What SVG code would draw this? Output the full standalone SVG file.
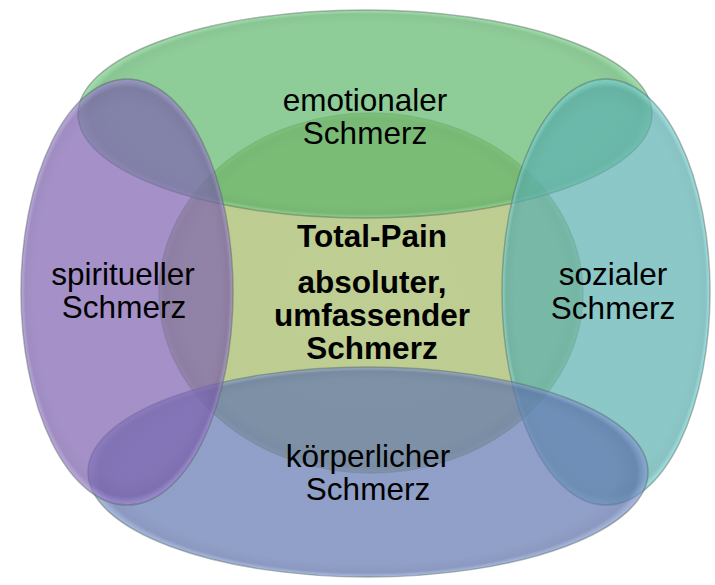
<svg xmlns="http://www.w3.org/2000/svg" width="715" height="585" viewBox="0 0 715 585">
<defs>
<radialGradient id="gCenter" cx="0.5" cy="0.5" r="0.5">
<stop offset="0" stop-color="#bfce92"/>
<stop offset="0.9" stop-color="#bdcc90"/>
<stop offset="0.97" stop-color="#b2c088"/>
<stop offset="1" stop-color="#c8d6a0"/>
</radialGradient>
<radialGradient id="gGreen" cx="0.5" cy="0.5" r="0.5">
<stop offset="0" stop-color="#5eb66c"/>
<stop offset="0.88" stop-color="#5eb66c"/>
<stop offset="0.96" stop-color="#58ad66"/>
<stop offset="1" stop-color="#7fd48c"/>
</radialGradient>
<radialGradient id="gCyan" cx="0.5" cy="0.5" r="0.5">
<stop offset="0" stop-color="#5bb0b0"/>
<stop offset="0.88" stop-color="#5bb0b0"/>
<stop offset="0.96" stop-color="#56a8a8"/>
<stop offset="1" stop-color="#7ed8d8"/>
</radialGradient>
<radialGradient id="gBlue" cx="0.5" cy="0.5" r="0.5">
<stop offset="0" stop-color="#6277b0"/>
<stop offset="0.88" stop-color="#6277b0"/>
<stop offset="0.96" stop-color="#5a6ea5"/>
<stop offset="1" stop-color="#8aa0d8"/>
</radialGradient>
<radialGradient id="gPurple" cx="0.5" cy="0.5" r="0.5">
<stop offset="0" stop-color="#7e62b0"/>
<stop offset="0.88" stop-color="#7e62b0"/>
<stop offset="0.96" stop-color="#765ba6"/>
<stop offset="1" stop-color="#a288d4"/>
</radialGradient>
</defs>
<style>
.shape { fill-opacity: 0.7; stroke: #4e6258; stroke-opacity: 0.45; stroke-width: 1.5; }
.center { stroke: #8a9a70; stroke-opacity: 0.5; stroke-width: 1.5; }
.lbl { font-family: "Liberation Sans", Arial, sans-serif; font-size: 31.5px; fill: #000; text-anchor: middle; }
.bold { font-weight: bold; }
</style>
<g id="total-pain">
<ellipse class="center" cx="371" cy="293" rx="212" ry="180" fill="url(#gCenter)"/>
<text class="lbl bold" x="372" y="247">Total-Pain</text>
<text class="lbl bold" x="372" y="293">absoluter,</text>
<text class="lbl bold" x="372" y="326">umfassender</text>
<text class="lbl bold" x="372" y="359">Schmerz</text>
</g>
<g id="emotionaler-schmerz">
<ellipse class="shape" cx="365" cy="114" rx="287" ry="104" fill="url(#gGreen)"/>
<text class="lbl" x="365" y="111">emotionaler</text>
<text class="lbl" x="365" y="144">Schmerz</text>
</g>
<g id="sozialer-schmerz">
<ellipse class="shape" cx="606" cy="292" rx="104" ry="213" fill="url(#gCyan)"/>
<text class="lbl" x="613" y="285">sozialer</text>
<text class="lbl" x="613" y="319">Schmerz</text>
</g>
<g id="koerperlicher-schmerz">
<ellipse class="shape" cx="368" cy="472" rx="280" ry="105" fill="url(#gBlue)"/>
<text class="lbl" x="368" y="467">körperlicher</text>
<text class="lbl" x="368" y="500">Schmerz</text>
</g>
<g id="spiritueller-schmerz">
<ellipse class="shape" cx="127" cy="292" rx="106" ry="213" fill="url(#gPurple)"/>
<text class="lbl" x="123" y="285">spiritueller</text>
<text class="lbl" x="124" y="318">Schmerz</text>
</g>
<g id="connectors"/>
</svg>
